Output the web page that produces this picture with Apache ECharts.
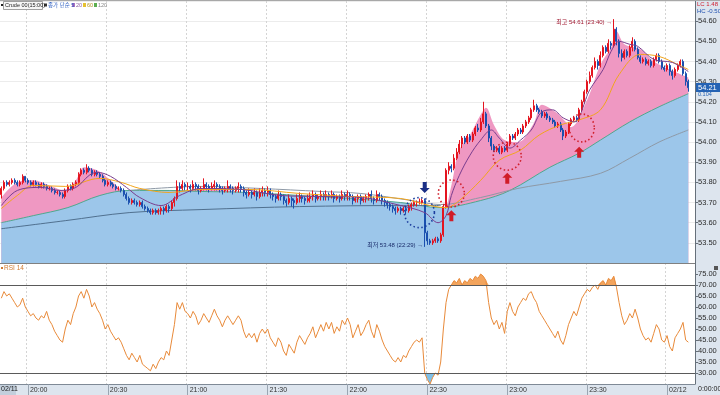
<!DOCTYPE html>
<html><head><meta charset="utf-8">
<script src="https://cdn.jsdelivr.net/npm/echarts@6/dist/echarts.min.js"></script>
<style>html,body{margin:0;padding:0;background:#fff}#c{width:720px;height:395px}</style>
</head><body><div id="c"></div>
<script>
// ---- categories: 1-minute bars from 19:50 to 00:10 ----
const categories = (function(){const a=[];for(let m=19*60+50;m<=24*60+10;m++){const h=Math.floor(m/60)%24,mm=m%60;a.push(String(h).padStart(2,'0')+':'+String(mm).padStart(2,'0'));}return a;})();
const xTickLabels = {'20:00':'20:00','20:30':'20:30','21:00':'21:00','21:30':'21:30','22:00':'22:00','22:30':'22:30','23:00':'23:00','23:30':'23:30','00:00':'02/12'};
const priceTicks = {min:53.4,max:54.7,step:0.1};
const rsiTicks = {min:25,max:80,step:5};

// ---- OHLC ----
const opens = [
53.74,53.77,53.80,53.79,53.80,53.81,53.80,53.79,53.80,53.83,
53.81,53.80,53.79,53.80,53.79,53.78,53.79,53.78,53.77,53.77,
53.76,53.75,53.75,53.74,53.73,53.76,53.78,53.77,53.79,53.80,
53.84,53.86,53.85,53.87,53.86,53.84,53.85,53.84,53.83,53.81,
53.79,53.80,53.79,53.78,53.77,53.77,53.76,53.74,53.72,53.70,
53.71,53.70,53.69,53.70,53.68,53.67,53.66,53.65,53.66,53.65,
53.66,53.67,53.66,53.68,53.67,53.70,53.72,53.78,53.77,53.79,
53.78,53.78,53.77,53.79,53.78,53.76,53.77,53.79,53.78,53.77,
53.78,53.79,53.78,53.77,53.76,53.77,53.78,53.77,53.76,53.77,
53.78,53.77,53.75,53.74,53.75,53.74,53.75,53.73,53.75,53.76,
53.75,53.76,53.74,53.73,53.72,53.74,53.73,53.71,53.70,53.72,
53.71,53.70,53.72,53.73,53.72,53.71,53.72,53.73,53.74,53.72,
53.73,53.74,53.73,53.74,53.73,53.74,53.72,53.73,53.72,53.74,
53.73,53.74,53.73,53.71,53.72,53.73,53.71,53.72,53.73,53.74,
53.72,53.71,53.74,53.73,53.71,53.70,53.69,53.68,53.67,53.66,
53.67,53.66,53.67,53.66,53.68,53.69,53.70,53.70,53.70,53.71,
53.55,53.51,53.50,53.51,53.52,53.51,53.54,53.68,53.86,53.88,
53.87,53.92,53.95,53.99,54.02,54.00,54.03,54.01,54.04,54.07,
54.06,54.10,54.14,54.08,54.02,53.98,53.96,53.97,53.95,53.97,
53.96,53.99,54.03,54.02,54.04,54.06,54.05,54.08,54.10,54.12,
54.16,54.18,54.16,54.15,54.13,54.14,54.12,54.11,54.10,54.08,
54.09,54.06,54.03,54.05,54.09,54.11,54.12,54.11,54.16,54.20,
54.25,54.30,54.33,54.37,54.40,54.38,54.43,54.47,54.45,54.49,
54.48,54.56,54.50,54.44,54.42,54.45,54.43,54.47,54.50,54.46,
54.42,54.40,54.41,54.39,54.40,54.38,54.41,54.43,54.40,54.37,
54.36,54.38,54.35,54.33,54.36,54.38,54.40,54.34,54.30];
const closes = [
53.77,53.80,53.79,53.80,53.81,53.80,53.79,53.80,53.83,53.81,
53.80,53.79,53.80,53.79,53.78,53.79,53.78,53.77,53.77,53.76,
53.75,53.75,53.74,53.73,53.76,53.78,53.77,53.79,53.80,53.84,
53.86,53.85,53.87,53.86,53.84,53.85,53.84,53.83,53.81,53.79,
53.80,53.79,53.78,53.77,53.77,53.76,53.74,53.72,53.70,53.71,
53.70,53.69,53.70,53.68,53.67,53.66,53.65,53.66,53.65,53.66,
53.67,53.66,53.68,53.67,53.70,53.72,53.78,53.77,53.79,53.78,
53.78,53.77,53.79,53.78,53.76,53.77,53.79,53.78,53.77,53.78,
53.79,53.78,53.77,53.76,53.77,53.78,53.77,53.76,53.77,53.78,
53.77,53.75,53.74,53.75,53.74,53.75,53.73,53.75,53.76,53.75,
53.76,53.74,53.73,53.72,53.74,53.73,53.71,53.70,53.72,53.71,
53.70,53.72,53.73,53.72,53.71,53.72,53.73,53.74,53.72,53.73,
53.74,53.73,53.74,53.73,53.74,53.72,53.73,53.72,53.74,53.73,
53.74,53.73,53.71,53.72,53.73,53.71,53.72,53.73,53.74,53.72,
53.71,53.74,53.73,53.71,53.70,53.69,53.68,53.67,53.66,53.67,
53.66,53.67,53.66,53.68,53.69,53.70,53.70,53.70,53.71,53.55,
53.51,53.50,53.51,53.52,53.51,53.54,53.68,53.86,53.88,53.87,
53.92,53.95,53.99,54.02,54.00,54.03,54.01,54.04,54.07,54.06,
54.10,54.14,54.08,54.02,53.98,53.96,53.97,53.95,53.97,53.96,
53.99,54.03,54.02,54.04,54.06,54.05,54.08,54.10,54.12,54.16,
54.18,54.16,54.15,54.13,54.14,54.12,54.11,54.10,54.08,54.09,
54.06,54.03,54.05,54.09,54.11,54.12,54.11,54.16,54.20,54.25,
54.30,54.33,54.37,54.40,54.38,54.43,54.47,54.45,54.49,54.48,
54.56,54.50,54.44,54.42,54.45,54.43,54.47,54.50,54.46,54.42,
54.40,54.41,54.39,54.40,54.38,54.41,54.43,54.40,54.37,54.36,
54.38,54.35,54.33,54.36,54.38,54.40,54.34,54.30,54.27];
const lows = [
53.72,53.76,53.78,53.78,53.79,53.79,53.78,53.78,53.79,53.80,
53.79,53.78,53.78,53.78,53.77,53.77,53.77,53.76,53.76,53.75,
53.74,53.74,53.73,53.72,53.72,53.75,53.76,53.76,53.78,53.79,
53.83,53.84,53.84,53.85,53.83,53.83,53.83,53.82,53.80,53.78,
53.78,53.78,53.77,53.76,53.76,53.75,53.73,53.71,53.69,53.69,
53.69,53.68,53.68,53.67,53.66,53.65,53.64,53.64,53.64,53.64,
53.64,53.64,53.65,53.65,53.66,53.68,53.71,53.75,53.76,53.76,
53.76,53.75,53.76,53.76,53.74,53.75,53.76,53.76,53.75,53.76,
53.76,53.76,53.75,53.74,53.75,53.75,53.75,53.74,53.75,53.75,
53.75,53.73,53.72,53.73,53.72,53.73,53.71,53.72,53.73,53.73,
53.73,53.72,53.71,53.70,53.71,53.71,53.69,53.68,53.69,53.68,
53.67,53.69,53.70,53.70,53.69,53.70,53.70,53.71,53.70,53.71,
53.71,53.71,53.71,53.71,53.72,53.70,53.71,53.70,53.71,53.71,
53.71,53.71,53.69,53.70,53.70,53.69,53.70,53.70,53.71,53.70,
53.69,53.70,53.71,53.69,53.68,53.67,53.66,53.65,53.64,53.65,
53.64,53.65,53.64,53.65,53.66,53.68,53.68,53.69,53.69,53.48,
53.49,53.49,53.49,53.50,53.50,53.50,53.53,53.67,53.84,53.85,
53.86,53.91,53.94,53.97,53.99,53.99,54.00,54.00,54.03,54.05,
54.05,54.09,54.07,54.00,53.96,53.95,53.95,53.94,53.94,53.95,
53.95,53.98,54.01,54.01,54.03,54.04,54.04,54.07,54.09,54.11,
54.15,54.15,54.14,54.12,54.12,54.11,54.10,54.09,54.07,54.07,
54.05,54.01,54.02,54.04,54.08,54.10,54.10,54.10,54.15,54.19,
54.24,54.29,54.32,54.36,54.36,54.37,54.42,54.44,54.44,54.46,
54.47,54.48,54.42,54.40,54.41,54.42,54.42,54.45,54.45,54.41,
54.39,54.39,54.38,54.38,54.37,54.37,54.40,54.39,54.36,54.35,
54.35,54.33,54.31,54.32,54.35,54.37,54.33,54.28,54.25];
const highs = [
53.78,53.81,53.81,53.81,53.82,53.82,53.81,53.81,53.84,53.83,
53.82,53.81,53.81,53.81,53.80,53.80,53.80,53.79,53.78,53.78,
53.77,53.76,53.76,53.75,53.77,53.79,53.79,53.80,53.81,53.85,
53.87,53.87,53.89,53.88,53.87,53.86,53.86,53.85,53.84,53.82,
53.81,53.81,53.80,53.79,53.78,53.78,53.77,53.75,53.73,53.72,
53.72,53.71,53.71,53.71,53.69,53.68,53.67,53.67,53.67,53.67,
53.68,53.68,53.69,53.69,53.71,53.73,53.81,53.80,53.81,53.80,
53.80,53.79,53.81,53.80,53.79,53.78,53.82,53.80,53.79,53.80,
53.81,53.80,53.79,53.78,53.78,53.81,53.79,53.78,53.78,53.80,
53.79,53.78,53.76,53.77,53.76,53.77,53.76,53.77,53.78,53.77,
53.78,53.77,53.75,53.74,53.76,53.75,53.74,53.72,53.74,53.73,
53.72,53.74,53.75,53.74,53.73,53.74,53.75,53.76,53.75,53.74,
53.76,53.75,53.76,53.75,53.76,53.75,53.74,53.74,53.76,53.75,
53.76,53.75,53.74,53.73,53.74,53.74,53.73,53.74,53.75,53.76,
53.73,53.76,53.75,53.74,53.72,53.71,53.70,53.69,53.68,53.68,
53.68,53.68,53.68,53.69,53.70,53.71,53.71,53.72,53.72,53.72,
53.56,53.52,53.52,53.53,53.53,53.55,53.69,53.87,53.90,53.89,
53.94,53.97,54.01,54.03,54.03,54.04,54.04,54.05,54.08,54.09,
54.12,54.20,54.15,54.09,54.03,53.99,53.98,53.98,53.98,53.98,
54.00,54.04,54.04,54.05,54.07,54.07,54.09,54.11,54.13,54.17,
54.21,54.19,54.17,54.16,54.15,54.15,54.13,54.12,54.11,54.10,
54.10,54.07,54.06,54.10,54.12,54.13,54.13,54.17,54.21,54.26,
54.31,54.35,54.38,54.42,54.41,54.45,54.48,54.48,54.51,54.50,
54.61,54.57,54.51,54.46,54.46,54.46,54.48,54.52,54.51,54.47,
54.43,54.42,54.42,54.41,54.41,54.42,54.44,54.44,54.41,54.38,
54.39,54.39,54.36,54.37,54.39,54.41,54.41,54.35,54.31];

// ---- overlay lines: [bar index, price] ----
const pinkTop = [[0,53.725],[6,53.80],[12,53.81],[18,53.785],[24,53.76],[28,53.81],[31,53.875],[36,53.86],[41,53.81],[46,53.75],[52,53.685],[60,53.66],[67,53.735],[75,53.77],[86,53.76],[97,53.735],[112,53.685],[127,53.71],[142,53.685],[154,53.635],[161,53.56],[166,53.635],[169,53.785],[172,53.96],[176,54.035],[180,54.135],[182,54.17],[185,54.085],[189,54.01],[194,54.00],[200,54.095],[203,54.185],[208,54.15],[212,54.10],[214,54.075],[220,54.21],[225,54.385],[229,54.47],[231,54.55],[234,54.485],[240,54.46],[245,54.40],[251,54.36],[258,54.32]];
const blueTop = [[0,53.60],[12,53.635],[25,53.675],[37,53.735],[48,53.76],[63,53.76],[75,53.755],[93,53.75],[112,53.735],[131,53.72],[150,53.70],[165,53.675],[180,53.71],[191,53.76],[206,53.875],[217,53.945],[225,54.01],[236,54.10],[247,54.175],[258,54.24]];
const purpleLine = [[0,53.685],[6,53.76],[15,53.775],[22,53.76],[28,53.775],[33,53.835],[36,53.85],[41,53.83],[47,53.775],[52,53.725],[60,53.685],[67,53.735],[75,53.77],[90,53.765],[105,53.735],[120,53.73],[135,53.725],[150,53.685],[159,53.65],[164,53.60],[167,53.635],[169,53.735],[172,53.835],[176,53.935],[180,54.01],[184,54.06],[187,54.02],[191,53.97],[195,54.01],[199,54.06],[203,54.15],[207,54.16],[211,54.12],[215,54.10],[221,54.26],[226,54.36],[229,54.45],[232,54.50],[236,54.485],[239,54.475],[245,54.41],[252,54.395],[258,54.35]];
const orangeLine = [[0,53.67],[6,53.735],[12,53.785],[24,53.78],[37,53.82],[45,53.80],[52,53.77],[63,53.75],[75,53.765],[93,53.765],[112,53.745],[131,53.73],[150,53.72],[161,53.685],[167,53.675],[172,53.71],[180,53.81],[187,53.91],[195,53.96],[202,54.035],[210,54.085],[217,54.11],[225,54.16],[232,54.335],[240,54.435],[247,54.425],[254,54.385],[258,54.36]];
const grayLine = [[48,53.76],[75,53.78],[97,53.77],[120,53.755],[135,53.745],[154,53.71],[165,53.69],[180,53.725],[194,53.77],[210,53.805],[225,53.845],[236,53.92],[247,54.00],[258,54.06]];
const darkLine = [[0,53.57],[24,53.61],[48,53.65],[75,53.665],[112,53.68],[150,53.685],[165,53.685]];

// ---- RSI(14) ----
const rsi = [
64,67,65,66,
64,62,60,61,64,60,58,56,57,55,54,
56,55,58,54,52,
49,47,45,44,50,
54,52,57,60,65,67,64,
68,65,60,62,59,
57,54,50,52,49,47,45,46,44,41,38,36,
39,37,35,38,34,33,32,31,34,32,35,37,36,40,
38,45,52,62,
59,62,58,57,55,58,56,52,54,57,55,53,56,
59,56,54,51,54,56,54,52,54,56,54,
49,46,48,46,48,44,48,50,48,50,
46,44,42,46,44,40,38,43,41,39,44,47,45,
43,46,48,51,46,49,52,49,53,50,53,48,51,49,54,52,
55,52,46,49,52,47,49,52,54,49,46,
52,49,45,42,40,38,36,35,37,35,38,37,40,42,44,45,44,46,
30,27,25,28,30,29,
35,50,62,68,70,72,
71,73,70,72,71,73,72,74,73,75,74,72,
62,55,52,54,50,53,48,58,
62,58,56,60,62,64,63,66,67,64,
62,58,56,54,52,50,48,46,49,45,43,47,
52,55,58,56,60,64,66,68,67,69,
70,68,71,72,70,73,72,74,69,62,
56,52,54,57,55,59,55,50,
47,45,46,44,48,52,50,45,44,47,
42,40,46,48,50,53,45,44];
const rsiUpper = 70, rsiLower = 30;

// ---- annotations ----
const lowNote = {idx:159, price:53.48, text:'최저 53.48 (22:29) →'};
const highNote = {idx:230, price:54.61, text:'최고 54.61 (23:40) →'};
const blueArrow = [[159,53.775]];
const redArrows = [[168.5,53.635],[190,53.82],[217.3,53.95]];
const blueCircle = {c:[157,53.65], size:[30,30]};
const redCircles = [{c:[169.3,53.745],size:[26,27]},{c:[190,53.93],size:[28,28]},{c:[217.7,54.07],size:[25,28]}];

const candleData = opens.map((o,i)=>[o,closes[i],lows[i],highs[i]]);
const isMark = (i,v)=> xTickLabels[v]!==undefined;
const ARROW = 'path://M5,0 L10,5 L7,5 L7,11 L3,11 L3,5 L0,5 Z';
const F = '"Liberation Sans","Noto Sans CJK KR",sans-serif';
const FN = '"Liberation Sans Narrow","Liberation Sans","Noto Sans CJK KR",sans-serif';

const mpData = [];
mpData.push({coord:[lowNote.idx,lowNote.price],symbol:'circle',symbolSize:1,itemStyle:{color:'rgba(0,0,0,0)'},
  label:{show:true,position:'left',distance:1,offset:[0,-2],formatter:lowNote.text,color:'#1b2d6b',fontSize:6,fontFamily:FN}});
mpData.push({coord:[highNote.idx,highNote.price],symbol:'circle',symbolSize:1,itemStyle:{color:'rgba(0,0,0,0)'},
  label:{show:true,position:'left',distance:1,offset:[0,3],formatter:highNote.text,color:'#a01830',fontSize:6,fontFamily:FN}});
blueArrow.forEach(c=>mpData.push({coord:c,symbol:ARROW,symbolSize:[10,11],symbolRotate:180,itemStyle:{color:'#1a2f86'},label:{show:false}}));
redArrows.forEach(c=>mpData.push({coord:c,symbol:ARROW,symbolSize:[10,11],itemStyle:{color:'#d01c28'},label:{show:false}}));
mpData.push({coord:blueCircle.c,symbol:'circle',symbolSize:blueCircle.size,itemStyle:{color:'rgba(0,0,0,0)',borderColor:'#1c3d9e',borderWidth:1.6,borderType:[1.5,2.5]},label:{show:false}});
redCircles.forEach(r=>mpData.push({coord:r.c,symbol:'circle',symbolSize:r.size,itemStyle:{color:'rgba(0,0,0,0)',borderColor:'#d0202c',borderWidth:1.6,borderType:[1.5,2.5]},label:{show:false}}));

function lineS(name,data,color,w,z){return {name,type:'line',xAxisIndex:0,yAxisIndex:0,data,smooth:0.35,symbol:'none',z,silent:true,lineStyle:{color,width:w}};}

const option = {
  animation:false,
  textStyle:{fontFamily:F},
  grid:[{left:0,right:25,top:1,height:262},{left:0,right:25,top:263,height:121}],
  xAxis:[
    {type:'category',gridIndex:0,data:categories,boundaryGap:true,axisLine:{show:false},axisTick:{show:false},axisLabel:{show:false},
     splitLine:{show:true,interval:isMark,lineStyle:{color:'#d4d4d4',type:[2,2]}}},
    {type:'category',gridIndex:1,data:categories,boundaryGap:true,axisLine:{show:true,lineStyle:{color:'#7f8a96'}},
     axisTick:{show:true,interval:isMark,alignWithLabel:true,length:11,lineStyle:{color:'#9aa6b2'}},
     axisLabel:{show:true,interval:isMark,formatter:v=>xTickLabels[v]||'',fontSize:7,color:'#333',align:'left',margin:3,padding:[0,0,0,2],fontFamily:FN},
     splitLine:{show:true,interval:isMark,lineStyle:{color:'#d4d4d4',type:[2,2]}}}
  ],
  yAxis:[
    {type:'value',gridIndex:0,position:'right',min:priceTicks.min,max:priceTicks.max,interval:priceTicks.step,
     axisLine:{show:true,lineStyle:{color:'#66707a'}},axisTick:{show:true,length:3,lineStyle:{color:'#66707a'}},
     axisLabel:{fontSize:7.5,color:'#2a2a2a',margin:3,formatter:v=>v.toFixed(2),showMinLabel:false,showMaxLabel:false,fontFamily:FN},
     splitLine:{show:true,lineStyle:{color:'#ececec'}}},
    {type:'value',gridIndex:1,position:'right',min:rsiTicks.min,max:rsiTicks.max,interval:rsiTicks.step,
     axisLine:{show:true,lineStyle:{color:'#66707a'}},axisTick:{show:true,length:3,lineStyle:{color:'#66707a'}},
     axisLabel:{fontSize:7.5,color:'#2a2a2a',margin:3,formatter:v=>v.toFixed(2),showMinLabel:false,showMaxLabel:false,fontFamily:FN},
     splitLine:{show:false}}
  ],
  series:[
    {name:'pink',type:'line',xAxisIndex:0,yAxisIndex:0,data:pinkTop,smooth:0.35,symbol:'none',z:1,silent:true,lineStyle:{width:0},areaStyle:{color:'#ef98c2',opacity:1}},
    {name:'blue',type:'line',xAxisIndex:0,yAxisIndex:0,data:blueTop,smooth:0.35,symbol:'none',z:1,silent:true,lineStyle:{color:'#4fa88e',width:1},areaStyle:{color:'#9cc6ea',opacity:1}},
    lineS('ma120',darkLine,'#50708f',1,2),
    lineS('ma60',grayLine,'#8e99a6',1,2),
    {name:'candle',type:'candlestick',xAxisIndex:0,yAxisIndex:0,data:candleData,barWidth:1.5,z:3,silent:true,
     itemStyle:{color:'#e4141f',color0:'#1a4fae',borderColor:'#e4141f',borderColor0:'#1a4fae',borderWidth:1},
     markPoint:{silent:true,animation:false,data:mpData}},
    lineS('ma20',orangeLine,'#f2a51c',1,4),
    lineS('ma5',purpleLine,'#7a3d8e',1,4),
    // RSI panel
    {name:'rsiBaseHi',type:'line',xAxisIndex:1,yAxisIndex:1,data:rsi.map(()=>rsiUpper),stack:'hi',symbol:'none',silent:true,lineStyle:{width:0},z:1},
    {name:'rsiFillHi',type:'line',xAxisIndex:1,yAxisIndex:1,data:rsi.map(v=>Math.max(v-rsiUpper,0)),stack:'hi',symbol:'none',silent:true,lineStyle:{width:0},areaStyle:{color:'#f3a45c',opacity:1},z:1},
    {name:'rsiBaseLo',type:'line',xAxisIndex:1,yAxisIndex:1,data:rsi.map(v=>Math.min(v,rsiLower)),stack:'lo',symbol:'none',silent:true,lineStyle:{width:0},z:1},
    {name:'rsiFillLo',type:'line',xAxisIndex:1,yAxisIndex:1,data:rsi.map(v=>rsiLower-Math.min(v,rsiLower)),stack:'lo',symbol:'none',silent:true,lineStyle:{width:0},areaStyle:{color:'#7fc0e8',opacity:1},z:1},
    {name:'rsi',type:'line',xAxisIndex:1,yAxisIndex:1,data:rsi,symbol:'none',silent:true,z:3,lineStyle:{color:'#e88a3a',width:1},
     markLine:{silent:true,symbol:'none',label:{show:false},lineStyle:{color:'#5a5a5a',width:1,type:'solid'},data:[{yAxis:rsiUpper},{yAxis:rsiLower}]}}
  ],
  graphic:[
    {type:'rect',z:-10,shape:{x:695,y:0,width:25,height:395},style:{fill:'#dde5ee'}},
    {type:'rect',z:-10,shape:{x:0,y:384,width:720,height:11},style:{fill:'#dde5ee'}},
    {type:'rect',z:-9,shape:{x:0,y:384,width:16,height:11},style:{fill:'#c3cfdc'}},
    {type:'text',z:5,left:1,top:386,style:{text:'02/11',fontSize:7,fill:'#222',fontFamily:FN}},
    {type:'text',z:5,left:698,top:386,style:{text:'0:00:00',fontSize:7,fill:'#222',fontFamily:FN}},
    {type:'line',z:5,shape:{x1:0,y1:0.5,x2:720,y2:0.5},style:{stroke:'#a8a8a8',lineWidth:1}},
    {type:'line',z:5,shape:{x1:0,y1:263.5,x2:695,y2:263.5},style:{stroke:'#808080',lineWidth:1}},
    // header legend
    {type:'rect',z:5,shape:{x:1,y:4,width:2,height:2},style:{fill:'#222'}},
    {type:'rect',z:5,shape:{x:3.5,y:1.5,width:39,height:8},style:{fill:'#f6f6f6',stroke:'#8a8a8a',lineWidth:0.8}},
    {type:'text',z:6,left:5,top:2.5,style:{text:'Crude 00(15:00)',fontSize:5.5,fill:'#222',fontFamily:FN}},
    {type:'rect',z:5,shape:{x:44,y:3.5,width:3,height:3},style:{fill:'#333'}},
    {type:'text',z:6,left:48,top:2.5,style:{text:'종가 단순 5',fontSize:5.5,fill:'#2a5cc0',fontFamily:FN}},
    {type:'rect',z:5,shape:{x:72,y:3,width:3,height:4},style:{fill:'#b070c0'}},
    {type:'text',z:6,left:76,top:2.5,style:{text:'20',fontSize:5.5,fill:'#8a5aa0',fontFamily:FN}},
    {type:'rect',z:5,shape:{x:83,y:3,width:3,height:4},style:{fill:'#e6c030'}},
    {type:'text',z:6,left:87,top:2.5,style:{text:'60',fontSize:5.5,fill:'#b09020',fontFamily:FN}},
    {type:'rect',z:5,shape:{x:94,y:3,width:3,height:4},style:{fill:'#5cae50'}},
    {type:'text',z:6,left:98,top:2.5,style:{text:'120',fontSize:5.5,fill:'#888',fontFamily:FN}},
    // right-top info
    {type:'text',z:6,left:697,top:1,style:{text:'LC 1.48',fontSize:6,fill:'#d02030',fontFamily:FN}},
    {type:'text',z:6,left:697,top:8,style:{text:'HC -0.50',fontSize:6,fill:'#2050b0',fontFamily:FN}},
    {type:'rect',z:6,shape:{x:696,y:83,width:24,height:9},style:{fill:'#2563b4'}},
    {type:'text',z:7,left:698,top:84,style:{text:'54.21',fontSize:7.5,fill:'#fff',fontFamily:FN}},
    {type:'text',z:6,left:698,top:92,style:{text:'0.104',fontSize:5.5,fill:'#2563b4',fontFamily:FN}},
    // RSI header
    {type:'rect',z:5,shape:{x:1,y:267,width:2,height:2},style:{fill:'#d07a30'}},
    {type:'text',z:6,left:4,top:265,style:{text:'RSI 14',fontSize:6.5,fill:'#d07a30',fontFamily:FN}},
    {type:'rect',z:6,shape:{x:714,y:266,width:4,height:4},style:{fill:'#555'}}
  ]
};
const chart = echarts.init(document.getElementById('c'),null,{renderer:'canvas'});
chart.setOption(option);
</script></body></html>
